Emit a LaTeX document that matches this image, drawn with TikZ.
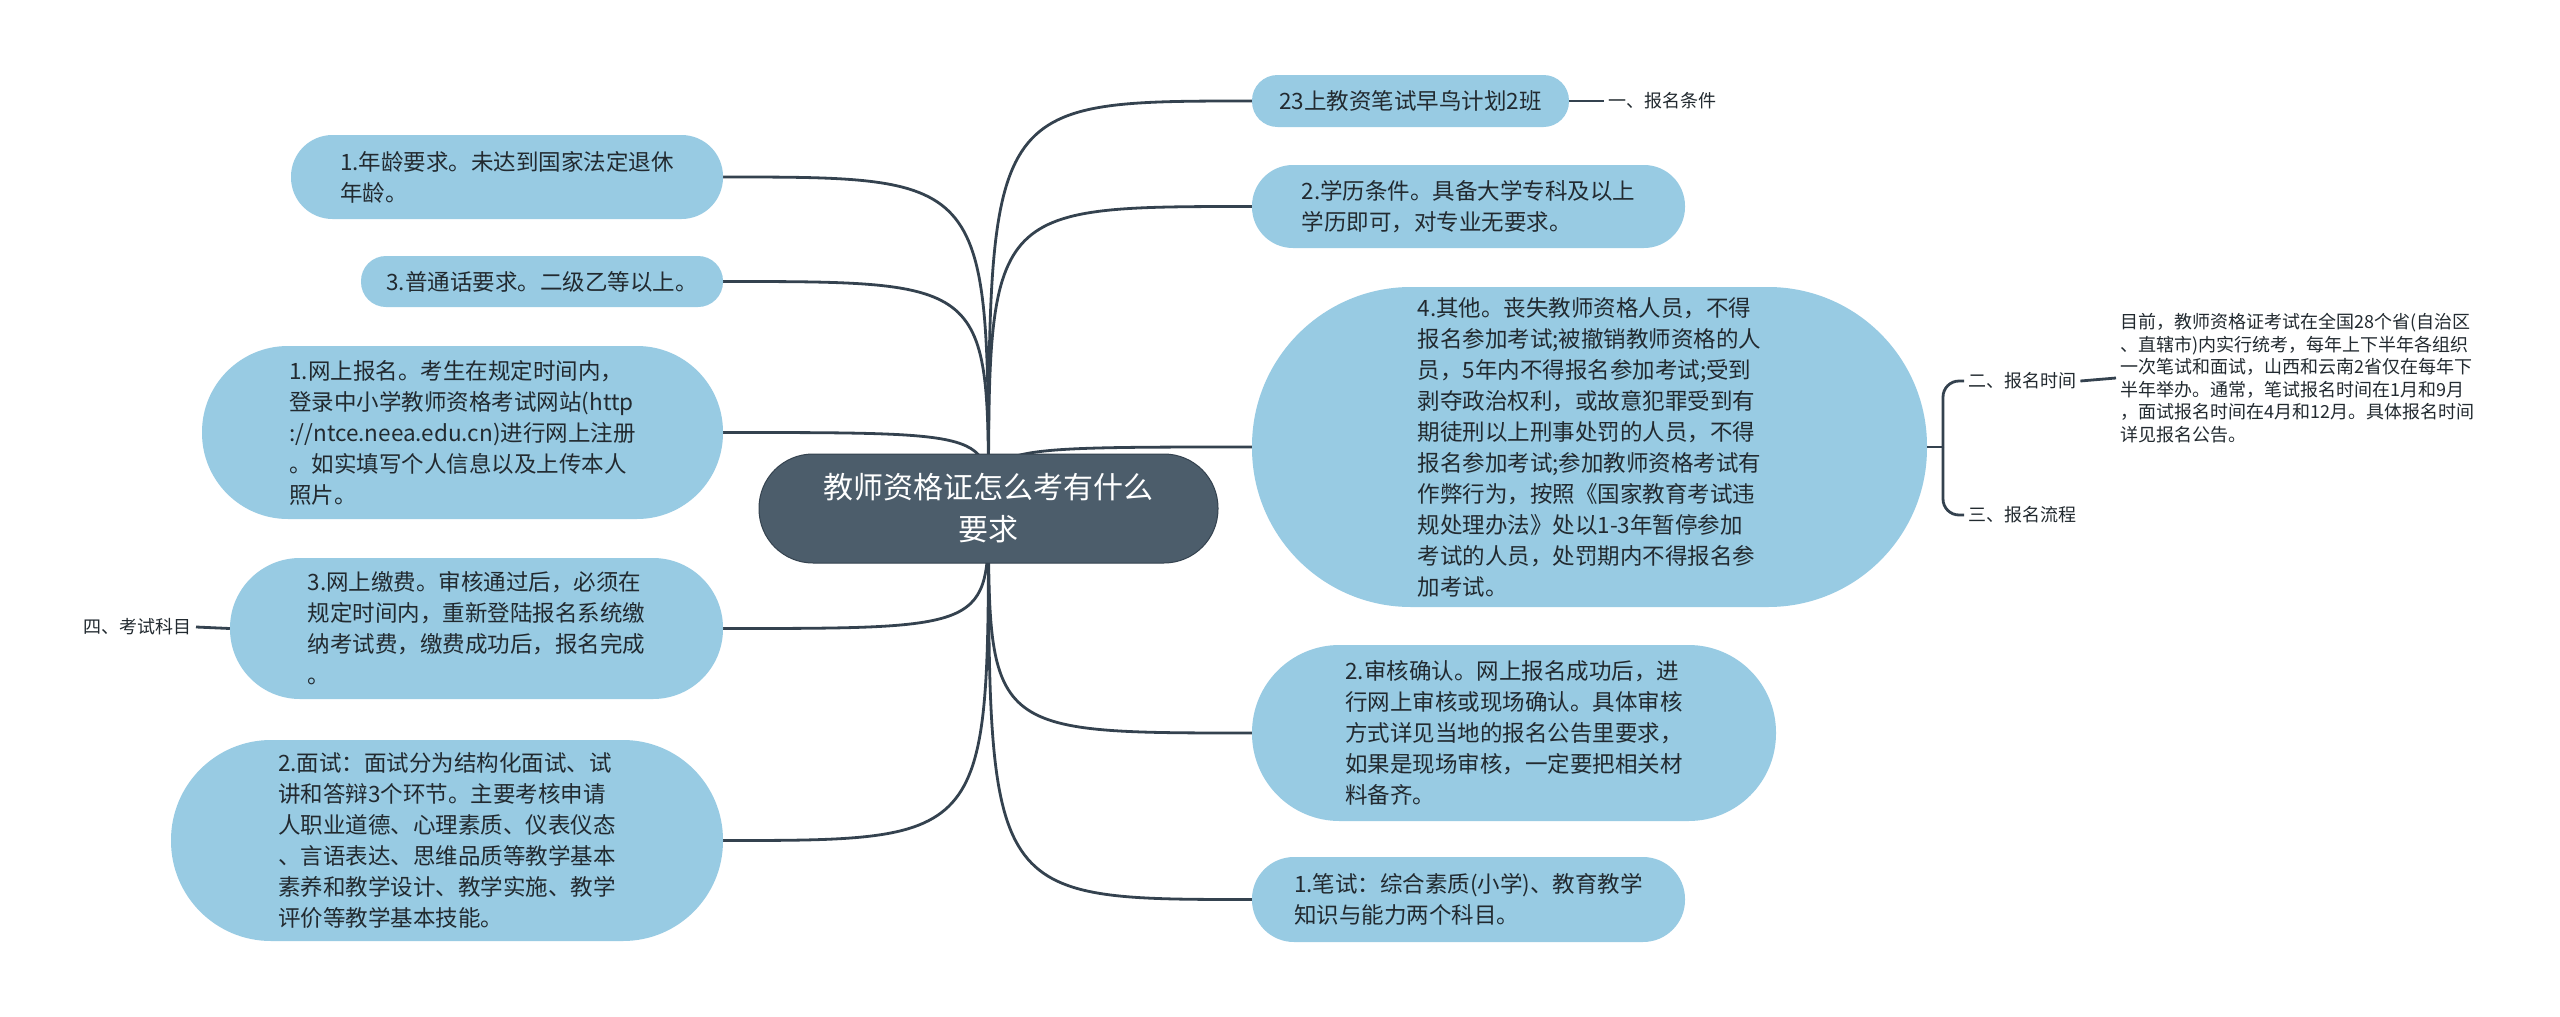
\documentclass[tikz,border=0pt]{standalone}
\usepackage{fontspec}
\newfontfamily\cjk{Noto Sans CJK SC}
\usetikzlibrary{backgrounds}
\definecolor{bubfill}{HTML}{98CBE3}
\definecolor{rootfill}{HTML}{4C5D6B}
\definecolor{linec}{HTML}{34424F}
\definecolor{txt}{HTML}{222A30}
\begin{document}
\begin{tikzpicture}[x=1pt,y=-1pt,
  bub/.style n args={3}{draw=none, fill=bubfill, rectangle, rounded corners=#3,
    minimum width=#1, minimum height=#2, inner sep=0pt, align=left,
    font=\cjk\fontsize{22.5}{31}\selectfont, text=txt},
  lbl/.style={inner sep=4pt, font=\cjk\fontsize{18}{22.5}\selectfont, text=txt, align=left},
  conn/.style={draw=linec, line width=2.8pt},
  rootbox/.style={fill=rootfill, draw=linec, line width=1pt, rectangle, rounded corners=54pt,
    minimum width=459pt, minimum height=109pt, inner sep=0pt, align=center,
    font=\cjk\fontsize{30}{42}\selectfont, text=white}
]
\begin{scope}[on background layer]
\fill[white] (0,0) rectangle (2560,1017);
\end{scope}
\useasboundingbox (0,0) rectangle (2560,1017);

% root
\node[rootbox] (R) at (988.5,508.5) {教师资格证怎么考有什么\\要求};

% left side
\node[bub={432pt}{84pt}{41.5pt}] (A1) at (507,177) {1.年龄要求。未达到国家法定退休\\年龄。};
\node[bub={362pt}{51pt}{25pt}] (A2) at (542,281.5) {3.普通话要求。二级乙等以上。};
\node[bub={521pt}{173pt}{86pt}] (A3) at (462.5,432.5) {1.网上报名。考生在规定时间内，\\登录中小学教师资格考试网站(http\\://ntce.neea.edu.cn)进行网上注册\\。如实填写个人信息以及上传本人\\照片。};
\node[bub={493pt}{141pt}{70pt}] (A4) at (476.5,628.5) {3.网上缴费。审核通过后，必须在\\规定时间内，重新登陆报名系统缴\\纳考试费，缴费成功后，报名完成\\。};
\node[bub={552pt}{201pt}{100pt}] (A5) at (447,840.5) {2.面试：面试分为结构化面试、试\\讲和答辩3个环节。主要考核申请\\人职业道德、心理素质、仪表仪态\\、言语表达、思维品质等教学基本\\素养和教学设计、教学实施、教学\\评价等教学基本技能。};
\node[lbl, anchor=east] (L4) at (196,627) {四、考试科目};

% right side
\node[bub={317pt}{52pt}{25.5pt}] (B1) at (1410.5,101) {23上教资笔试早鸟计划2班};
\node[lbl, anchor=west] (L1) at (1604,101) {一、报名条件};
\node[bub={433pt}{83pt}{41pt}] (B2) at (1468.5,206.5) {2.学历条件。具备大学专科及以上\\学历即可，对专业无要求。};
\node[bub={675pt}{320pt}{159pt}] (B3) at (1589.5,447) {4.其他。丧失教师资格人员，不得\\报名参加考试;被撤销教师资格的人\\员，5年内不得报名参加考试;受到\\剥夺政治权利，或故意犯罪受到有\\期徒刑以上刑事处罚的人员，不得\\报名参加考试;参加教师资格考试有\\作弊行为，按照《国家教育考试违\\规处理办法》处以1-3年暂停参加\\考试的人员，处罚期内不得报名参\\加考试。};
\node[bub={524pt}{176pt}{87.5pt}] (B4) at (1514,733) {2.审核确认。网上报名成功后，进\\行网上审核或现场确认。具体审核\\方式详见当地的报名公告里要求，\\如果是现场审核，一定要把相关材\\料备齐。};
\node[bub={433pt}{85pt}{42pt}] (B5) at (1468.5,899.5) {1.笔试：综合素质(小学)、教育教学\\知识与能力两个科目。};

\node[lbl, anchor=west] (L2) at (1964,381) {二、报名时间};
\node[lbl, anchor=west] (L3) at (1964,515) {三、报名流程};
\node[lbl, anchor=west] (D) at (2116,378) {目前，教师资格证考试在全国28个省(自治区\\、直辖市)内实行统考，每年上下半年各组织\\一次笔试和面试，山西和云南2省仅在每年下\\半年举办。通常，笔试报名时间在1月和9月\\，面试报名时间在4月和12月。具体报名时间\\详见报名公告。};

\coordinate (br) at (1943,447);

\begin{scope}[on background layer]
\foreach \n in {A1,A2,A3,A4,A5}
  \draw[conn] (R.center) .. controls (R.center |- \n.east) .. (\n.east);
\foreach \n in {B1,B2,B3,B4,B5}
  \draw[conn] (R.center) .. controls (R.center |- \n.west) .. (\n.west);
\end{scope}
\draw[conn] (B1.east) -- (L1.west);
\draw[conn] (A4.west) -- (L4.east);
\draw[conn] (B3.east) -- (br);
\draw[conn, rounded corners=16pt] (br) -- (br |- L2.west) -- (L2.west);
\draw[conn, rounded corners=16pt] (br) -- (br |- L3.west) -- (L3.west);
\draw[conn] (L2.east) -- (D.west);
\end{tikzpicture}
\end{document}
